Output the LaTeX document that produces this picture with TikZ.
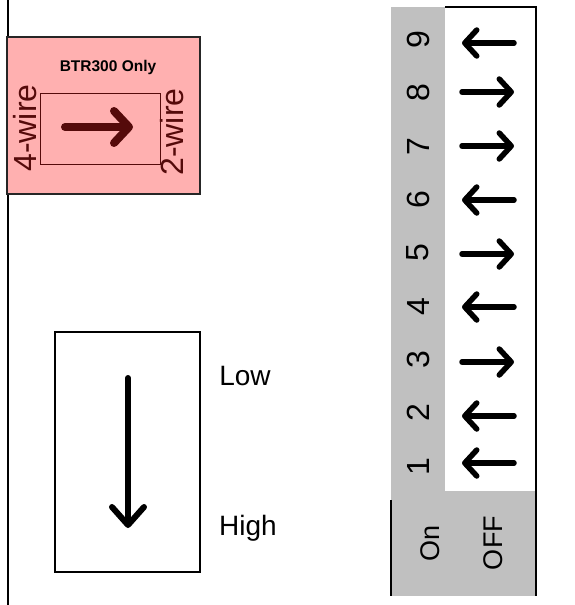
\documentclass[tikz,border=0pt]{standalone}
\usepackage{fontspec}
\setmainfont{Liberation Sans}
\usetikzlibrary{arrows.meta}
\definecolor{pinkfill}{RGB}{255,176,176}
\definecolor{darkwine}{RGB}{85,10,10}
\definecolor{switchgray}{RGB}{192,192,192}
\tikzset{
	swarrow/.style={line width=5.5pt, line cap=round, -{Straight Barb[length=12pt,width=26pt,round]}},
	swnum/.style={rotate=90, font=\fontsize{32}{32}\selectfont},
	bigtext/.style={font=\fontsize{28}{28}\selectfont},
	wiretext/.style={rotate=90, color=darkwine, font=\fontsize{32}{32}\selectfont},
}

\begin{document}
\begin{tikzpicture}[x=1pt, y=-1pt]
		%%%%% START %%%%%
		\useasboundingbox (0, 0) rectangle (575, 605);
		
		\draw[line width=2pt] (8, 0) -- (8, 605);
		
		\draw[line width=1.5pt, fill=pinkfill, draw=black!85] (7, 37) rectangle (200, 194);
		\node[font=\bfseries\fontsize{15.5}{15.5}\selectfont] (title) at (108, 67) {BTR300 Only};
		\draw[line width=1pt, color=darkwine] (40, 93) rectangle (160, 164);
		\draw[line width=8pt, color=darkwine, line cap=round, -{Straight Barb[length=15pt,width=32pt,round]}] (65, 127) -- (133, 127);
		\node[wiretext] (fourwire) at (25, 128) {4-wire};
		\node[wiretext] (twowire) at (172, 132) {2-wire};
		
		\draw[line width=1.5pt] (55, 332) rectangle (200, 572);
		\draw[line width=6pt, line cap=round, -{Straight Barb[length=18pt,width=32pt,round]}] (128, 378) -- (128, 528);
		\node[bigtext] (low) at (245, 376) {Low};
		\node[bigtext] (high) at (248, 528) {High};
		
		\fill[switchgray] (391, 7) rectangle (445, 491);
		\fill[switchgray] (391, 491) rectangle (536, 596);
		\draw[line width=1.5pt] (445, 7) -- (536, 7) -- (536, 596);
		\draw[line width=1.5pt] (391, 500) -- (391, 596);
		
		\node[swnum] (n1) at (418, 467) {1};
		\node[swnum] (n2) at (418, 413) {2};
		\node[swnum] (n3) at (418, 360) {3};
		\node[swnum] (n4) at (418, 307) {4};
		\node[swnum] (n5) at (418, 253) {5};
		\node[swnum] (n6) at (418, 200) {6};
		\node[swnum] (n7) at (418, 147) {7};
		\node[swnum] (n8) at (418, 93) {8};
		\node[swnum] (n9) at (418, 40) {9};
		
		\draw[swarrow] (514, 463) -- (462, 463);
		\draw[swarrow] (514, 416) -- (462, 416);
		\draw[swarrow] (462, 362) -- (514, 362);
		\draw[swarrow] (514, 307) -- (462, 307);
		\draw[swarrow] (462, 254) -- (514, 254);
		\draw[swarrow] (514, 200) -- (462, 200);
		\draw[swarrow] (462, 146) -- (514, 146);
		\draw[swarrow] (462, 92) -- (514, 92);
		\draw[swarrow] (514, 43) -- (462, 43);
		
		\node[rotate=90, font=\fontsize{27}{27}\selectfont] (on) at (430, 543) {On};
		\node[rotate=90, font=\fontsize{27}{27}\selectfont] (off) at (493, 543) {OFF};
		%%%%% END %%%%%
\end{tikzpicture}
\end{document}
